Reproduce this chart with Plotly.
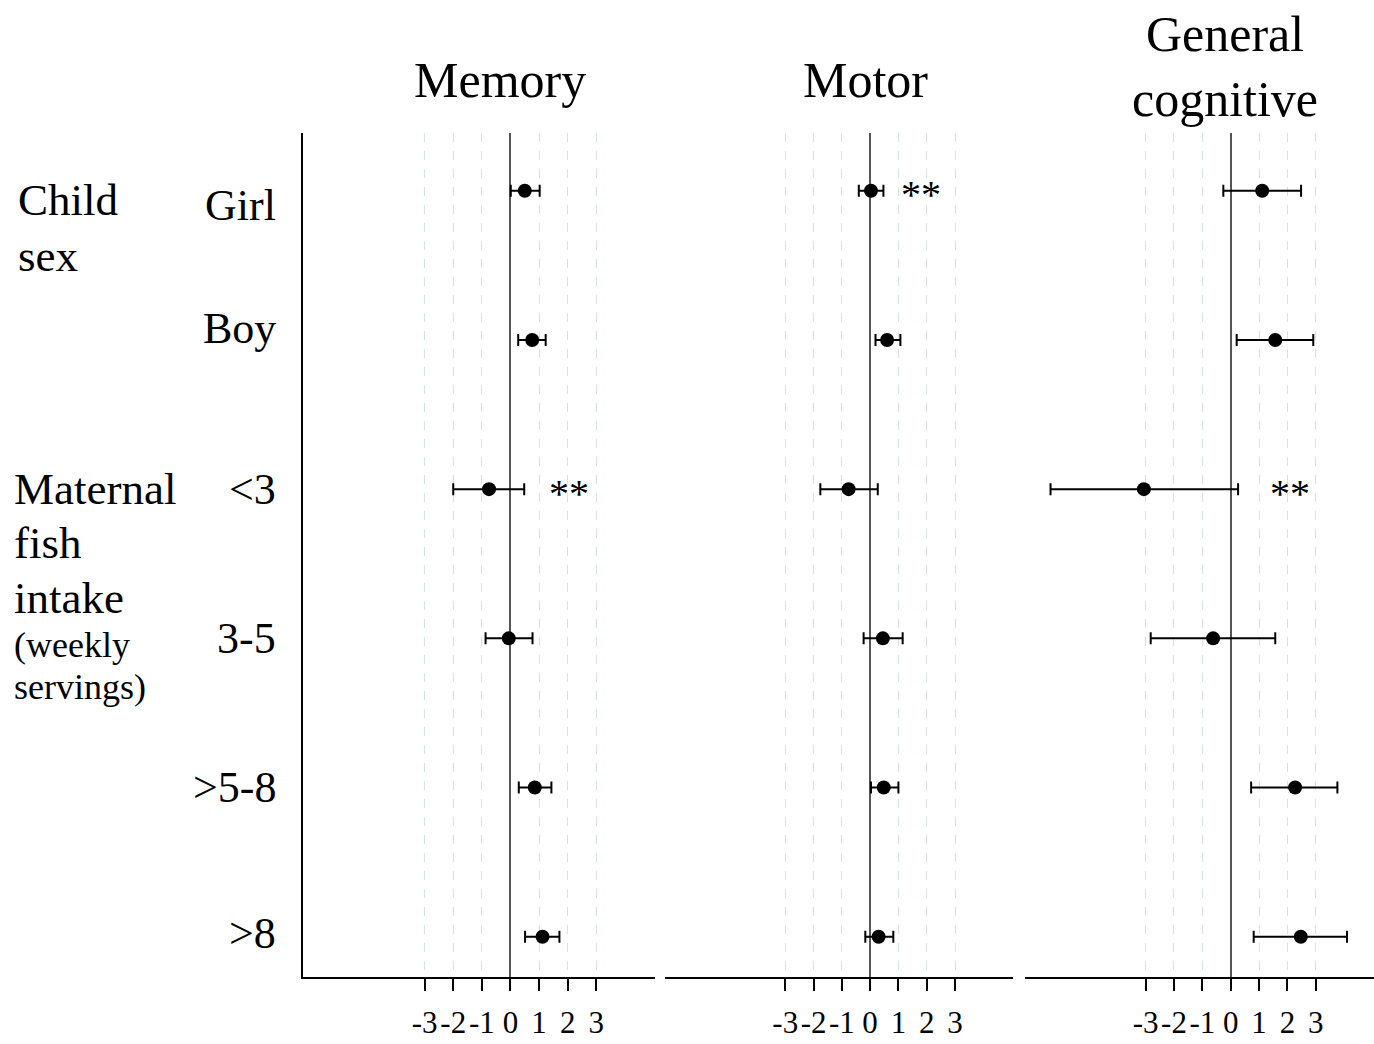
import plotly.graph_objects as go

# ---------------- data ----------------
rows = ["Girl", "Boy", "<3", "3-5", ">5-8", ">8"]
panel_titles = ["Memory", "Motor", "General<br>cognitive"]

memory_est = [0.50, 0.76, -0.75, -0.06, 0.85, 1.12]
memory_lo = [0.01, 0.27, -2.00, -0.87, 0.29, 0.51]
memory_hi = [1.02, 1.23, 0.48, 0.77, 1.43, 1.71]

motor_est = [0.03, 0.60, -0.76, 0.45, 0.48, 0.30]
motor_lo = [-0.40, 0.19, -1.76, -0.23, 0.03, -0.17]
motor_hi = [0.47, 1.07, 0.27, 1.15, 1.00, 0.82]

gc_est = [1.11, 1.57, -3.06, -0.62, 2.27, 2.47]
gc_lo = [-0.26, 0.21, -6.35, -2.82, 0.72, 0.81]
gc_hi = [2.48, 2.91, 0.26, 1.57, 3.76, 4.10]

tick_vals = [-3, -2, -1, 0, 1, 2, 3]
tick_text = ["-3", "-2", "-1", "0", "1", "2", "3"]

sig_panel = [0, 1, 2]
sig_row = ["<3", "Girl", "<3"]
sig_x = [2.05, 1.80, 2.10]

group_lines = ["Child", "sex", "Maternal", "fish", "intake"]
note_lines = ["(weekly", "servings)"]

# ---------------- layout ----------------
W, H = 1374, 1044
FONT = "Liberation Serif"
est = [memory_est, motor_est, gc_est]
lo = [memory_lo, motor_lo, gc_lo]
hi = [memory_hi, motor_hi, gc_hi]

px_domains = [(303, 655), (665, 1013), (1025, 1374)]
y_top, y_bot = 133, 977
x_range = [-7.25, 5.05]
y_range = [5.27, -0.387]

fig = go.Figure()
row_idx = list(range(len(rows)))

for p in range(3):
    suffix = "" if p == 0 else str(p + 1)
    fig.add_trace(go.Scatter(
        x=est[p], y=row_idx,
        mode="markers",
        marker=dict(color="black", size=14),
        error_x=dict(type="data", symmetric=False,
                     array=[h - e for h, e in zip(hi[p], est[p])],
                     arrayminus=[e - l for e, l in zip(est[p], lo[p])],
                     color="black", thickness=2, width=6),
        xaxis="x" + suffix, yaxis="y" + suffix,
        showlegend=False, hoverinfo="skip",
    ))
    d0, d1 = px_domains[p]
    fig.update_layout(**{
        "xaxis" + suffix: dict(
            domain=[d0 / W, d1 / W], range=x_range, anchor="y" + suffix,
            tickvals=tick_vals, ticktext=tick_text, tickangle=0,
            showgrid=True, gridcolor="#d3e4e6", gridwidth=1, griddash="dash",
            zeroline=True, zerolinecolor="#555555", zerolinewidth=2,
            showline=True, linecolor="black", linewidth=2,
            ticks="outside", ticklen=12, tickwidth=2, tickcolor="black",
            ticklabelstandoff=5,
            tickfont=dict(family=FONT, size=31, color="black"),
            fixedrange=True,
        ),
        "yaxis" + suffix: dict(
            domain=[1 - y_bot / H, 1 - y_top / H], range=y_range,
            anchor="x" + suffix,
            showgrid=False, zeroline=False, showticklabels=False, ticks="",
            showline=(p == 0), linecolor="black", linewidth=2,
            fixedrange=True,
        ),
    })
    # panel title
    fig.add_annotation(xref="paper", yref="paper",
                       x=[500 / W, 866 / W, 1225 / W][p],
                       y=[1 - 80 / H, 1 - 80 / H, 1 - 67 / H][p],
                       text=panel_titles[p], showarrow=False,
                       xanchor="center", yanchor="middle",
                       font=dict(family=FONT, size=50, color="black"))

# significance stars
for p, r, x in zip(sig_panel, sig_row, sig_x):
    suffix = "" if p == 0 else str(p + 1)
    fig.add_annotation(xref="x" + suffix, yref="y" + suffix,
                       x=x, y=rows.index(r), text="**", showarrow=False,
                       xanchor="center", yanchor="middle", yshift=-4,
                       font=dict(family=FONT, size=40, color="black"))

# row labels
row_shift = [-15, 11, 0, 0, 0, 3]
for i, (lab, sh) in enumerate(zip(rows, row_shift)):
    fig.add_annotation(xref="paper", yref="y", x=278 / W, y=i,
                       text=lab.replace("<", "&lt;").replace(">", "&gt;"),
                       showarrow=False, xanchor="right", yanchor="middle",
                       yshift=sh,
                       font=dict(family=FONT, size=44, color="black"))

# group labels (one annotation per line)
group_x = [16, 16, 12, 12, 12]
group_y = [200, 256, 489, 543, 598]
for txt, gx, gy in zip(group_lines, group_x, group_y):
    fig.add_annotation(xref="paper", yref="paper", x=gx / W, y=1 - gy / H,
                       text=txt, showarrow=False, align="left",
                       xanchor="left", yanchor="middle",
                       font=dict(family=FONT, size=45, color="black"))
for txt, gy in zip(note_lines, [645, 687]):
    fig.add_annotation(xref="paper", yref="paper", x=12 / W, y=1 - gy / H,
                       text=txt, showarrow=False, align="left",
                       xanchor="left", yanchor="middle",
                       font=dict(family=FONT, size=36, color="black"))

fig.update_layout(width=W, height=H, margin=dict(l=0, r=0, t=0, b=0),
                  paper_bgcolor="white", plot_bgcolor="white",
                  showlegend=False)

fig.write_html("out.html", config={"displayModeBar": False})
